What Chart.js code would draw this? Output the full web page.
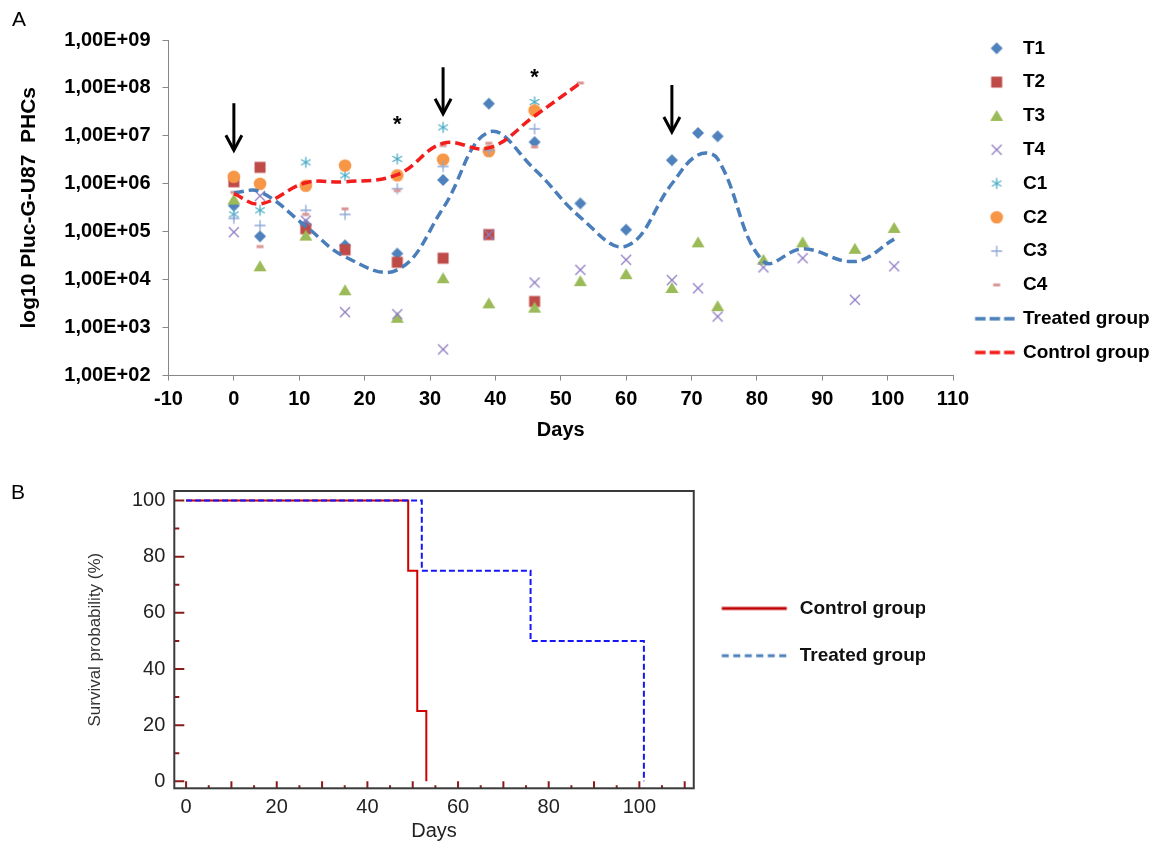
<!DOCTYPE html>
<html lang="en">
<head>
<meta charset="utf-8">
<title>Pluc-G-U87 PHCs and survival</title>
<script src="https://cdn.jsdelivr.net/npm/chart.js"></script>
<style>
  html, body { margin: 0; padding: 0; background: #fff; overflow: hidden; }
  body { width: 1158px; height: 843px; position: relative; font-family: "Liberation Sans", Arial, sans-serif; }
  canvas { position: absolute; left: 0; display: block; }
  #chartA { top: 0; }
  #chartB { top: 470px; }
  #labelB { position: absolute; left: 11px; top: 479px; font-size: 21px; line-height: 25px; color: #000; }
</style>
</head>
<body>
<canvas id="chartA" width="1200" height="450"></canvas>
<canvas id="chartB" width="1000" height="373"></canvas>
<div id="labelB">B</div>
<script>
// ---- panel A: bioluminescence per mouse (log scale) ----
const days = [0, 4, 11, 17, 25, 32, 39, 46, 53, 60, 67, 71, 74, 81, 87, 95, 101];
const t1 = [3.5e5, 8.0e4, 1.4e5, 5.2e4, 3.5e4, 1.2e6, 4.7e7, 7.4e6, 3.9e5, 1.1e5, 3.1e6, 1.15e7, 9.8e6, null, null, null, null];
const t2 = [1.1e6, 2.2e6, 1.15e5, 4.2e4, 2.3e4, 2.8e4, 8.7e4, 3.5e3, null, null, null, null, null, null, null, null, null];
const t3 = [4.7e5, 1.9e4, 8.3e4, 6.0e3, 1.6e3, 1.07e4, 3.2e3, 2.6e3, 9.3e3, 1.3e4, 6.7e3, 6.0e4, 2.8e3, 2.6e4, 6.0e4, 4.4e4, 1.2e5];
const t4 = [9.8e4, 5.6e5, 1.7e5, 2.1e3, 1.9e3, 3.5e2, 8.7e4, 8.7e3, 1.6e4, 2.6e4, 9.8e3, 6.6e3, 1.7e3, 1.8e4, 2.8e4, 3.8e3, 1.9e4];
const c1 = [2.3e5, 2.8e5, 2.8e6, 1.5e6, 3.3e6, 1.5e7, null, 5.1e7, null, null, null, null, null, null, null, null, null];
const c2 = [1.4e6, 1.0e6, 9.1e5, 2.4e6, 1.5e6, 3.2e6, 4.8e6, 3.4e7, null, null, null, null, null, null, null, null, null];
const c3 = [1.9e5, 1.35e5, 2.8e5, 2.3e5, 7.9e5, 2.3e6, 5.0e6, 1.4e7, null, null, null, null, null, null, null, null, null];
const c4 = [6.6e5, 4.9e4, 2.3e5, 3.0e5, 7.2e5, 6.3e6, 7.0e6, 5.9e6, 1.27e8, null, null, null, null, null, null, null, null];
const treatedGroup = [6.5e5, 6.8e5, 1.3e5, 3.0e4, 1.6e4, 3.1e5, 1.2e7, 2.0e6, 2.0e5, 5.0e4, 1.0e6, 4.0e6, 3.3e6, 2.4e4, 4.4e4, 2.4e4, 7.0e4];
const controlGroup = [6.2e5, 3.8e5, 1.05e6, 1.1e6, 1.55e6, 7.0e6, 5.6e6, 2.6e7, 1.27e8, null, null, null, null, null, null, null, null];
const yTicksA = [1e2, 1e3, 1e4, 1e5, 1e6, 1e7, 1e8, 1e9];

// treatment arrows and significance stars
const arrowDays = [0, 32, 67];
const arrowTop = [4.8e7, 2.7e8, 1.15e8];
const arrowBottom = [5.0e6, 2.9e7, 1.2e7];
const starDays = [25, 46];
const starLevel = [2.3e7, 2.2e8];

// ---- panel B: Kaplan-Meier survival ----
const kmControlDays = [0, 49, 51, 53];
const kmControlSurv = [100, 75, 25, 0];
const kmTreatedDays = [0, 52, 76, 101];
const kmTreatedSurv = [100, 75, 50, 0];
const survTicks = [0, 20, 40, 60, 80, 100];
const dayTicksB = [0, 20, 40, 60, 80, 100];

const FONT = '"Liberation Sans", Arial, sans-serif';
Chart.defaults.font.family = FONT;

const seriesNames = ['T1', 'T2', 'T3', 'T4', 'C1', 'C2', 'C3', 'C4'];
const seriesValues = [t1, t2, t3, t4, c1, c2, c3, c4];
const markerKinds = ['diamond', 'square', 'triangle', 'cross', 'asterisk', 'circle', 'plus', 'dash'];
const markerColors = ['#4F81BD', '#BE4B48', '#9BBB59', '#8E7CC3', '#4BACC6', '#F79646', '#8EA8D8', '#D99694'];
const treatedColor = '#4A7EBB';
const controlColor = '#F21D1D';

function pts(xs, ys) {
  return xs.map((d, i) => ({ x: d, y: ys[i] })).filter(p => p.y !== null);
}

function drawMarker(g, kind, color, x, y) {
  g.fillStyle = color;
  g.strokeStyle = color;
  g.lineWidth = 1.3;
  g.beginPath();
  switch (kind) {
    case 'diamond':
      g.moveTo(x, y - 6); g.lineTo(x + 6, y); g.lineTo(x, y + 6); g.lineTo(x - 6, y); g.closePath(); g.fill(); break;
    case 'square':
      g.fillRect(x - 5.5, y - 5.5, 11, 11); break;
    case 'triangle':
      g.moveTo(x, y - 6); g.lineTo(x + 6.5, y + 5); g.lineTo(x - 6.5, y + 5); g.closePath(); g.fill(); break;
    case 'cross':
      g.moveTo(x - 5, y - 5); g.lineTo(x + 5, y + 5); g.moveTo(x - 5, y + 5); g.lineTo(x + 5, y - 5); g.stroke(); break;
    case 'asterisk':
      [90, 30, 150].forEach(a => {
        const r = a * Math.PI / 180;
        g.moveTo(x - 5.5 * Math.cos(r), y - 5.5 * Math.sin(r));
        g.lineTo(x + 5.5 * Math.cos(r), y + 5.5 * Math.sin(r));
      });
      g.stroke(); break;
    case 'circle':
      g.arc(x, y, 6.3, 0, Math.PI * 2); g.fill(); break;
    case 'plus':
      g.moveTo(x - 5.5, y); g.lineTo(x + 5.5, y); g.moveTo(x, y - 5.5); g.lineTo(x, y + 5.5); g.stroke(); break;
    case 'dash':
      g.fillRect(x - 3.5, y - 1.5, 7, 3); break;
  }
}

function markerIcon(w, h, cx, kind, color) {
  const c = document.createElement('canvas');
  c.width = w; c.height = h;
  drawMarker(c.getContext('2d'), kind, color, cx, h / 2);
  return c;
}

function lineIcon(w, h, x1, x2, color, width, dash) {
  const c = document.createElement('canvas');
  c.width = w; c.height = h;
  const g = c.getContext('2d');
  g.strokeStyle = color; g.lineWidth = width; g.setLineDash(dash);
  g.beginPath(); g.moveTo(x1, h / 2); g.lineTo(x2, h / 2); g.stroke();
  return c;
}

const legendIconsA = markerKinds.map((k, i) => markerIcon(60, 24, 36, k, markerColors[i]));
legendIconsA.push(lineIcon(60, 24, 14.4, 54.4, treatedColor, 3.5, [10.5, 4]));
legendIconsA.push(lineIcon(60, 24, 14.4, 54.4, controlColor, 3.5, [10.5, 4]));

const datasetsA = seriesNames.map((name, i) => ({
  type: 'scatter',
  label: name,
  data: pts(days, seriesValues[i]),
  pointStyle: markerIcon(20, 20, 10, markerKinds[i], markerColors[i]),
  pointRadius: 6,
  order: 20 - i
}));
datasetsA.push({
  type: 'line', label: 'Treated group', data: pts(days, treatedGroup),
  borderColor: treatedColor, borderWidth: 3.5, borderDash: [10, 5], tension: 0.4,
  pointRadius: 0, fill: false, order: 2
});
datasetsA.push({
  type: 'line', label: 'Control group', data: pts(days, controlGroup),
  borderColor: controlColor, borderWidth: 3.5, borderDash: [10, 5], tension: 0.4,
  pointRadius: 0, fill: false, order: 1
});

const annotationsA = {
  id: 'annotationsA',
  afterDatasetsDraw(chart) {
    const { ctx, scales: { x, y } } = chart;
    ctx.save();
    ctx.strokeStyle = '#000';
    ctx.lineWidth = 3;
    ctx.lineJoin = 'miter';
    arrowDays.forEach((d, i) => {
      const px = x.getPixelForValue(d);
      const top = y.getPixelForValue(arrowTop[i]);
      const bot = y.getPixelForValue(arrowBottom[i]);
      ctx.beginPath(); ctx.moveTo(px, top); ctx.lineTo(px, bot - 1); ctx.stroke();
      ctx.beginPath(); ctx.moveTo(px - 8, bot - 15); ctx.lineTo(px, bot); ctx.lineTo(px + 8, bot - 15); ctx.stroke();
    });
    ctx.fillStyle = '#000';
    ctx.font = 'bold 22px ' + FONT;
    ctx.textAlign = 'center';
    ctx.textBaseline = 'alphabetic';
    starDays.forEach((d, i) => {
      ctx.fillText('*', x.getPixelForValue(d), y.getPixelForValue(starLevel[i]) + 0.58 * 22);
    });
    ctx.restore();
  }
};

const axisGray = '#878787';
const boldA = { size: 20, weight: 'bold', family: FONT };
const legendFontA = { size: 19, weight: 'bold', family: FONT };

const chartA = new Chart(document.getElementById('chartA'), {
  type: 'scatter',
  data: { datasets: datasetsA },
  options: {
    responsive: false,
    animation: false,
    events: [],
    layout: { padding: { left: 12, top: 0, right: 30, bottom: 0 } },
    plugins: {
      title: {
        display: true, text: 'A', align: 'start', color: '#000',
        font: { size: 21, weight: 'normal', family: FONT },
        padding: { top: 8, bottom: 6.8 }
      },
      legend: {
        position: 'right', align: 'start', fullSize: true,
        title: { display: true, text: ' ', font: { size: 10 }, padding: { top: 12, bottom: 0 } },
        labels: {
          usePointStyle: true, pointStyleWidth: 45.7, padding: 14.8, color: '#000', font: legendFontA,
          generateLabels: chart => chart.data.datasets.map((ds, i) => ({
            text: ds.label, pointStyle: legendIconsA[i], fontColor: '#000',
            lineWidth: 0, strokeStyle: 'rgba(0,0,0,0)', fillStyle: 'rgba(0,0,0,0)',
            hidden: false, datasetIndex: i
          }))
        }
      },
      tooltip: { enabled: false }
    },
    scales: {
      x: {
        type: 'linear', min: -10, max: 110,
        grid: { display: true, drawOnChartArea: false, drawTicks: true, tickLength: 5, color: axisGray },
        border: { display: true, color: axisGray, width: 1 },
        ticks: { stepSize: 10, autoSkip: false, maxRotation: 0, color: '#000', font: boldA, padding: 6.5 },
        title: { display: true, text: 'Days', color: '#000', font: boldA, padding: { top: 0, bottom: 8 } },
        afterFit: s => { s.height = 74.5; }
      },
      y: {
        type: 'logarithmic', min: 1e2, max: 1e9,
        afterBuildTicks: s => { s.ticks = yTicksA.map(v => ({ value: v })); },
        grid: { display: true, drawOnChartArea: false, drawTicks: true, tickLength: 6, color: axisGray },
        border: { display: true, color: axisGray, width: 1 },
        ticks: {
          autoSkip: false, color: '#000', font: boldA, padding: 12,
          callback: v => '1,00E+' + String(Math.round(Math.log10(v))).padStart(2, '0')
        },
        title: {
          display: true, text: 'log10 Pluc-G-U87  PHCs', color: '#000',
          font: { size: 21, weight: 'bold', family: FONT }, padding: { top: 5, bottom: 0 }
        },
        afterFit: s => { s.width = 156.5; }
      }
    }
  },
  plugins: [annotationsA]
});

// ---- panel B ----
const legendIconsB = [
  lineIcon(72, 20, 1.6, 66.6, '#C00000', 3, []),
  lineIcon(72, 20, 1.6, 66.6, '#4F81BD', 3, [7, 4.5])
];

const frameTicksB = {
  id: 'frameTicksB',
  afterDatasetsDraw(chart) {
    const { ctx, chartArea: a, scales: { x, y } } = chart;
    ctx.save();
    ctx.strokeStyle = '#8B1A1A';
    ctx.lineWidth = 2;
    ctx.beginPath();
    for (let d = 0; d <= 110; d += 5) {
      const px = x.getPixelForValue(d);
      const len = d % 10 === 0 ? 7 : 3;
      ctx.moveTo(px, a.bottom); ctx.lineTo(px, a.bottom - len);
    }
    for (let v = 0; v <= 100; v += 10) {
      const py = y.getPixelForValue(v);
      const len = v % 20 === 0 ? 10 : 5;
      ctx.moveTo(a.left, py); ctx.lineTo(a.left + len, py);
    }
    ctx.stroke();
    ctx.strokeStyle = '#3A3A3A';
    ctx.lineWidth = 2;
    ctx.strokeRect(a.left, a.top, a.right - a.left, a.bottom - a.top);
    ctx.restore();
  }
};

const chartB = new Chart(document.getElementById('chartB'), {
  type: 'line',
  data: {
    datasets: [
      {
        label: 'Control group', data: pts(kmControlDays, kmControlSurv), stepped: 'before',
        borderColor: '#D00000', borderWidth: 2, pointRadius: 0, fill: false, order: 2
      },
      {
        label: 'Treated group', data: pts(kmTreatedDays, kmTreatedSurv), stepped: 'before',
        borderColor: '#1515F5', borderWidth: 2, borderDash: [6, 3], pointRadius: 0, fill: false, order: 1
      }
    ]
  },
  options: {
    responsive: false,
    animation: false,
    events: [],
    layout: { padding: { left: 0, top: 14.3, right: 60, bottom: 0 } },
    plugins: {
      legend: {
        position: 'right', align: 'start', fullSize: false,
        title: { display: true, text: ' ', font: { size: 10 }, padding: { top: 67.6, bottom: 0 } },
        labels: {
          usePointStyle: true, pointStyleWidth: 68.2, padding: 28.3, color: '#111',
          font: { size: 19, weight: 'bold', family: FONT },
          generateLabels: chart => chart.data.datasets.map((ds, i) => ({
            text: ds.label, pointStyle: legendIconsB[i], fontColor: '#111',
            lineWidth: 0, strokeStyle: 'rgba(0,0,0,0)', fillStyle: 'rgba(0,0,0,0)',
            hidden: false, datasetIndex: i
          }))
        }
      },
      tooltip: { enabled: false }
    },
    scales: {
      x: {
        type: 'linear', min: -2.6, max: 112,
        afterBuildTicks: s => { s.ticks = dayTicksB.map(v => ({ value: v })); },
        grid: { display: false, drawTicks: false },
        border: { display: false },
        ticks: { autoSkip: false, maxRotation: 0, color: '#222', font: { size: 20, family: FONT }, padding: 6.7 },
        title: { display: true, text: 'Days', color: '#222', font: { size: 20, family: FONT }, padding: { top: 0, bottom: 0 } },
        afterFit: s => { s.height = 54.7; }
      },
      y: {
        type: 'linear', min: -2.5, max: 103.4,
        afterBuildTicks: s => { s.ticks = survTicks.map(v => ({ value: v })); },
        grid: { display: false, drawTicks: false },
        border: { display: false },
        ticks: { autoSkip: false, color: '#222', font: { size: 20, family: FONT }, padding: 9 },
        title: { display: true, text: 'Survival probability (%)', color: '#333', font: { size: 17, family: FONT }, padding: { top: 84.8, bottom: 0 } },
        afterFit: s => { s.width = 174.3; }
      }
    }
  },
  plugins: [frameTicksB]
});

// put the right edge of each plot frame where the figure has it
function pinRight(chart, right) {
  chart.config.options.layout.padding.right += chart.chartArea.right - right;
  chart.update();
}
pinRight(chartA, 953);
pinRight(chartB, 690);
</script>
</body>
</html>
